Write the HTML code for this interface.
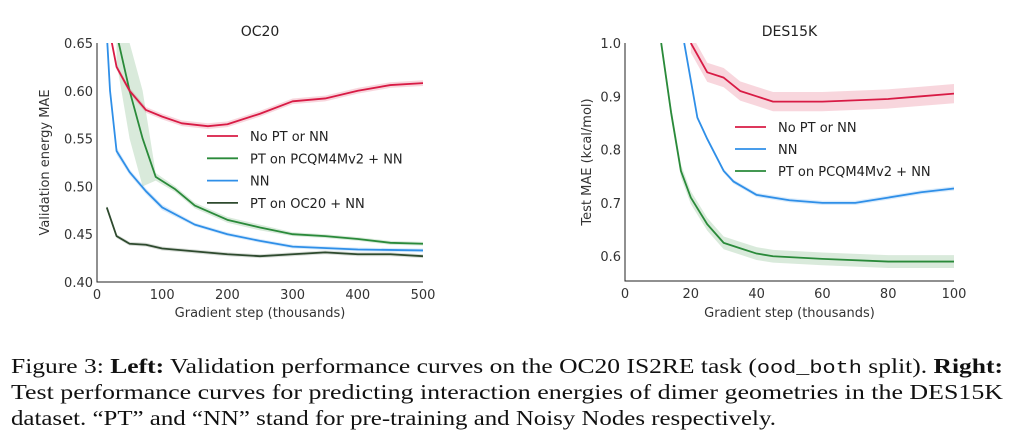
<!DOCTYPE html>
<html><head><meta charset="utf-8"><style>
body{margin:0;background:#fff;width:1017px;height:435px;overflow:hidden}
svg{display:block;font-family:"DejaVu Sans","Liberation Sans",sans-serif}
</style></head><body>
<svg id="fig" width="1017" height="435" viewBox="0 0 1017 435">
<g id="left"></g>
<g id="right"></g>
<g font-family="'Liberation Serif',serif" font-size="21" fill="#111">
<text x="11" y="373" textLength="992" lengthAdjust="spacingAndGlyphs">Figure 3: <tspan font-weight="bold">Left:</tspan> Validation performance curves on the OC20 IS2RE task (<tspan font-family="'Liberation Mono',monospace" font-size="18">ood_both</tspan> split). <tspan font-weight="bold">Right:</tspan></text>
<text x="11" y="399" textLength="992" lengthAdjust="spacingAndGlyphs">Test performance curves for predicting interaction energies of dimer geometries in the DES15K</text>
<text x="11" y="425" textLength="765" lengthAdjust="spacingAndGlyphs">dataset. “PT” and “NN” stand for pre-training and Noisy Nodes respectively.</text>
</g>
</svg>
<script>
// OC20 data (x in thousands)
const ocRedX=[17,20,30,50,75,100,130,170,200,250,300,350,400,450,500];
const ocRedY=[0.68,0.66,0.625,0.60,0.58,0.573,0.566,0.563,0.565,0.576,0.589,0.592,0.600,0.606,0.608];
const ocPcqX=[30,50,70,90,120,150,200,250,300,350,400,450,500];
const ocPcqY=[0.66,0.60,0.55,0.51,0.497,0.48,0.465,0.457,0.45,0.448,0.445,0.441,0.44];
const ocNNX=[15,20,30,50,75,100,150,200,250,300,400,500];
const ocNNY=[0.66,0.60,0.537,0.515,0.495,0.478,0.46,0.45,0.443,0.437,0.434,0.433];
const ocOCX=[15,30,50,75,100,150,200,250,300,350,400,450,500];
const ocOCY=[0.478,0.448,0.44,0.439,0.435,0.432,0.429,0.427,0.429,0.431,0.429,0.429,0.427];
const ocXTicks=[0,100,200,300,400,500];
const ocYTicks=[0.40,0.45,0.50,0.55,0.60,0.65];
// band half-widths (uncertainty)
const ocPcqBand=[0.03,0.05,0.05,0.004,0.003,0.003,0.003,0.003,0.002,0.002,0.002,0.002,0.002];
const ocNNBand=[0.006,0.005,0.004,0.003,0.003,0.003,0.002,0.002,0.002,0.002,0.002,0.002];
// DES15K data
const dRedX=[20,25,30,35,40,45,60,80,90,100];
const dRedY=[1.0,0.945,0.935,0.91,0.90,0.89,0.89,0.895,0.90,0.905];
const dNNX=[18,22,25,30,33,40,50,60,70,80,90,100];
const dNNY=[1.0,0.86,0.82,0.76,0.74,0.715,0.705,0.70,0.70,0.71,0.72,0.727];
const dPTX=[11,14,17,20,25,30,35,40,45,60,80,100];
const dPTY=[1.0,0.87,0.76,0.71,0.66,0.625,0.615,0.605,0.60,0.595,0.59,0.59];
const dXTicks=[0,20,40,60,80,100];
const dYTicks=[0.6,0.7,0.8,0.9,1.0];

const NS="http://www.w3.org/2000/svg";
function mk(p,tag,at,txt){const e=document.createElementNS(NS,tag);for(const k in at)e.setAttribute(k,at[k]);if(txt!=null)e.textContent=txt;p.appendChild(e);return e;}
const RED="#d81b45",GRN="#2a8a3a",BLU="#2f8fe8",DRK="#2e4a2e";

function chart(g,o){
  const sx=v=>o.x0+(v-o.xmin)/(o.xmax-o.xmin)*(o.x1-o.x0);
  const sy=v=>o.y1+(v-o.ymin)/(o.ymax-o.ymin)*(o.y0-o.y1);
  const cid="clip"+o.id;
  const cp=mk(g,"clipPath",{id:cid});mk(cp,"rect",{x:o.x0,y:o.y0,width:o.x1-o.x0,height:o.y1-o.y0});
  const plot=mk(g,"g",{"clip-path":"url(#"+cid+")"});
  o.series.forEach(s=>{
    const bw=i=>Array.isArray(s.band)?s.band[i]:s.band;
    const top=s.xs.map((x,i)=>sx(x)+","+sy(s.ys[i]+bw(i))).join(" ");
    const bot=s.xs.slice().reverse().map((x,j)=>{const i=s.xs.length-1-j;return sx(x)+","+sy(s.ys[i]-bw(i));}).join(" ");
    const b=mk(plot,"polygon",{points:top+" "+bot,fill:s.c,opacity:0.18});
    
    
    const l=mk(plot,"polyline",{points:s.xs.map((x,i)=>sx(x)+","+sy(s.ys[i])).join(" "),fill:"none",stroke:s.c,"stroke-width":1.8,"stroke-linejoin":"round"});
    
    
  });
  mk(g,"path",{d:`M${o.x0},${o.y0}V${o.y1}H${o.x1}`,fill:"none",stroke:"#222","stroke-width":1});
  o.xt.forEach(v=>{const t=mk(g,"text",{x:sx(v),y:o.y1+17,"text-anchor":"middle","font-size":13,fill:"#333"},String(v));
    });
  o.yt.forEach(v=>{const t=mk(g,"text",{x:o.x0-4,y:sy(v)+5,"text-anchor":"end","font-size":13,fill:"#333"},v.toFixed(o.dec));
    });
  const tt=mk(g,"text",{x:(o.x0+o.x1)/2,y:36,"text-anchor":"middle","font-size":14,fill:"#222"},o.title);
  
  const xl=mk(g,"text",{x:(o.x0+o.x1)/2,y:317,"text-anchor":"middle","font-size":13,fill:"#333"},"Gradient step (thousands)");
  
  const yl=mk(g,"text",{x:0,y:0,"text-anchor":"middle","font-size":13,fill:"#333",transform:`translate(${o.ylx},${(o.y0+o.y1)/2}) rotate(-90)`},o.ylabel);
  
  o.legend.forEach((e,i)=>{const y=o.ly+i*o.ld;
    const le=mk(g,"g",{});
    mk(le,"line",{x1:o.lx,x2:o.lx+31,y1:y,y2:y,stroke:e.c,"stroke-width":1.8});
    mk(le,"text",{x:o.lx+43,y:y+5,"font-size":13,fill:"#222"},e.t);});
}
chart(document.getElementById("left"),{id:"L",x0:97,x1:423,y0:43,y1:282,xmin:0,xmax:500,ymin:0.40,ymax:0.65,dec:2,
  xt:ocXTicks,yt:ocYTicks,title:"OC20",ylabel:"Validation energy MAE",ylx:49,
  series:[{name:"pcqm",xs:ocPcqX,ys:ocPcqY,c:GRN,band:ocPcqBand},{name:"nn",xs:ocNNX,ys:ocNNY,c:BLU,band:ocNNBand},
          {name:"oc20-pt",xs:ocOCX,ys:ocOCY,c:DRK,band:0.002},{name:"no-pt",xs:ocRedX,ys:ocRedY,c:RED,band:0.003}],
  legend:[{t:"No PT or NN",c:RED},{t:"PT on PCQM4Mv2 + NN",c:GRN},{t:"NN",c:BLU},{t:"PT on OC20 + NN",c:DRK}],lx:207,ly:136,ld:22.3});
chart(document.getElementById("right"),{id:"R",x0:625,x1:954,y0:43,y1:281,xmin:0,xmax:100,ymin:0.5535,ymax:1.0,dec:1,
  xt:dXTicks,yt:dYTicks,title:"DES15K",ylabel:"Test MAE (kcal/mol)",ylx:591,
  series:[{name:"no-pt",xs:dRedX,ys:dRedY,c:RED,band:0.018},{name:"nn",xs:dNNX,ys:dNNY,c:BLU,band:0.004},
          {name:"pcqm",xs:dPTX,ys:dPTY,c:GRN,band:0.012}],
  legend:[{t:"No PT or NN",c:RED},{t:"NN",c:BLU},{t:"PT on PCQM4Mv2 + NN",c:GRN}],lx:735,ly:127,ld:22});
</script>
</body></html>
